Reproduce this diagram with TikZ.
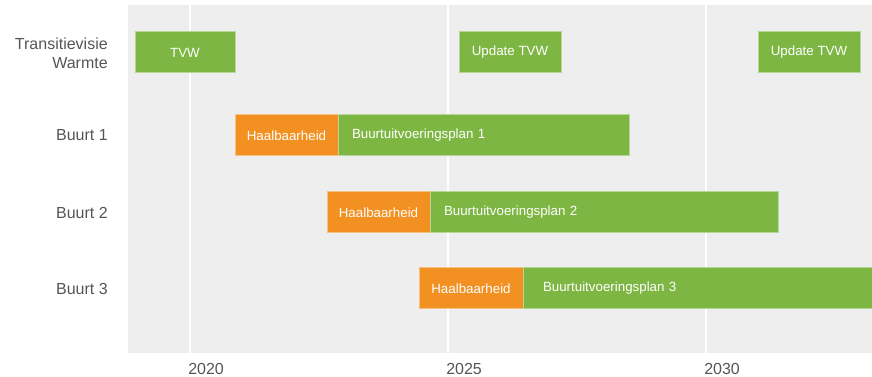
\documentclass[tikz,border=0pt]{standalone}
\usepackage{fontspec}
\setmainfont{Liberation Sans}
\usepackage{tikz}
\usetikzlibrary{positioning}

\definecolor{planGreen}{HTML}{7DB642}
\definecolor{checkOrange}{HTML}{F29021}
\definecolor{panelGray}{HTML}{EEEEEE}
\definecolor{labelGray}{HTML}{555555}

\begin{document}
\begin{tikzpicture}[x=0.75pt,y=-0.75pt,
    span/.style={minimum width=#1*0.75pt},
    bar/.style={draw=#1!55!white,fill=#1,line width=0.75pt,minimum height=30.75pt,
        inner sep=0pt,outer sep=0pt,text=white,font=\fontsize{10}{12}\selectfont},
    tvw/.style={bar=planGreen,span=#1,anchor=west},
    check/.style={bar=checkOrange,span=#1,anchor=west},
    plan/.style={bar=planGreen,span=#1,text width=(#1-28)*0.75pt,align=left,inner xsep=10.5pt},
    row/.style={anchor=east,align=right,inner sep=0pt,text=labelGray,font=\fontsize{12}{14.25}\selectfont},
    year/.style={anchor=base west,inner sep=0pt,text=labelGray,font=\fontsize{12}{14}\selectfont}]
    \useasboundingbox (0,0) rectangle (872,377);

    % background panel and year lines
    \fill[panelGray] (128,5) rectangle (872,353);
    \foreach \yr/\gx in {2020/190,2025/448,2030/706} {
        \draw[white,line width=1.1pt] (\gx,5) -- (\gx,353);
        \node[year] (y\yr) at (\gx-2,375) {\yr};
    }

    % row labels
    \node[row] (lblT) at (108,53)    {Transitievisie\\Warmte};
    \node[row] (lbl1) at (108,135.5) {Buurt 1};
    \node[row] (lbl2) at (108,212.5) {Buurt 2};
    \node[row] (lbl3) at (108,288.5) {Buurt 3};

    % transitievisie
    \node[tvw=100] (tvw)  at (135,52.5) {TVW};
    \node[tvw=102] (upd1) at (459,52.5) {Update TVW};
    \node[tvw=102] (upd2) at (758,52.5) {Update TVW};

    % buurten
    \node[check=103] (haal1) at (235,135.5) {Haalbaarheid};
    \node[plan=291]  (plan1) [right=0pt of haal1] {Buurtuitvoeringsplan 1};
    \node[check=103] (haal2) at (327,212.5) {Haalbaarheid};
    \node[plan=348]  (plan2) [right=0pt of haal2] {Buurtuitvoeringsplan 2};
    \node[check=104] (haal3) at (419,288.5) {Haalbaarheid};
    \node[plan=349,inner xsep=12.75pt,text width=343*0.75pt-25.5pt] (plan3) [right=0pt of haal3] {Buurtuitvoeringsplan 3};
\end{tikzpicture}
\end{document}
